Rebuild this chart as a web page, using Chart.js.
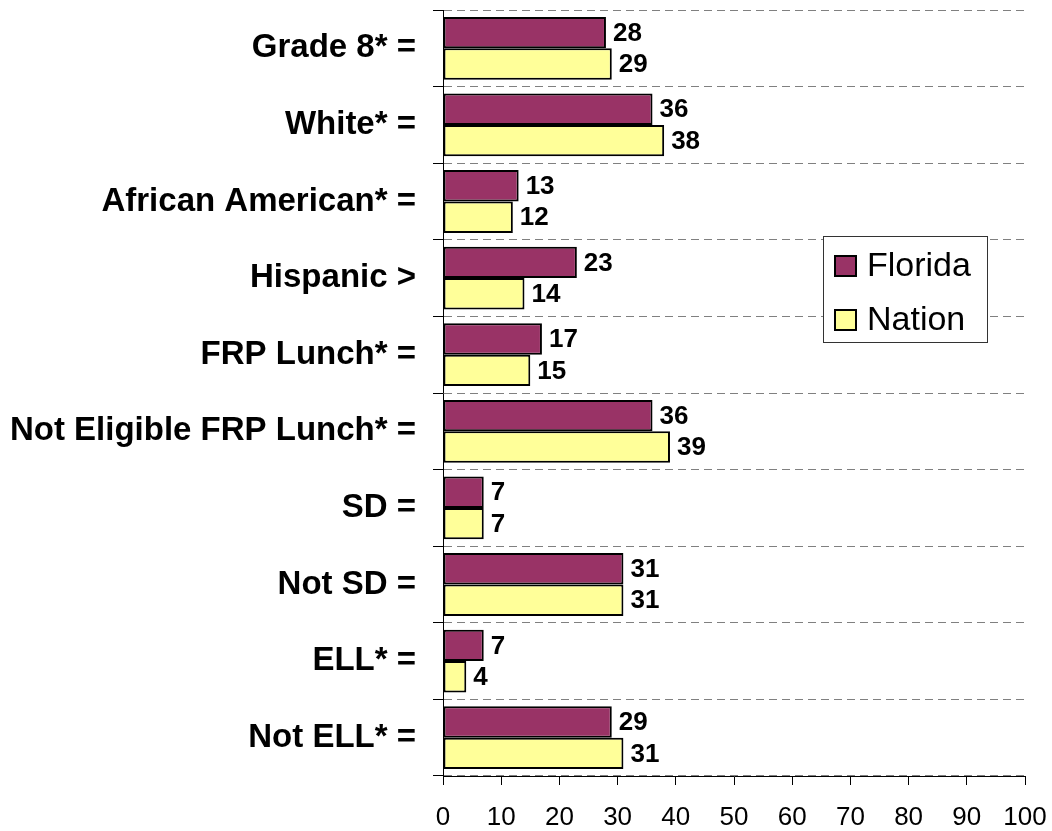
<!DOCTYPE html>
<html>
<head>
<meta charset="utf-8">
<script src="https://cdn.jsdelivr.net/npm/chart.js@4.4.1/dist/chart.umd.min.js"></script>
<style>
  html, body { margin: 0; padding: 0; background: #ffffff; }
  #wrap { width: 1052px; height: 831px; position: relative; }
</style>
</head>
<body>
<div id="wrap"><canvas id="c" width="1052" height="831"></canvas></div>
<script>
const categories = ["Grade 8* =", "White* =", "African American* =", "Hispanic >", "FRP Lunch* =",
  "Not Eligible FRP Lunch* =", "SD =", "Not SD =", "ELL* =", "Not ELL* ="];
const floridaValues = [28, 36, 13, 23, 17, 36, 7, 31, 7, 29];
const nationValues = [29, 38, 12, 14, 15, 39, 7, 31, 4, 31];
const seriesNames = ["Florida", "Nation"];
const xTicks = [0, 10, 20, 30, 40, 50, 60, 70, 80, 90, 100];

const FONT = "'Liberation Sans', Arial, sans-serif";

const valueLabels = {
  id: 'valueLabels',
  afterDatasetsDraw(chart) {
    const ctx = chart.ctx;
    ctx.save();
    ctx.font = "bold 26px " + FONT;
    ctx.fillStyle = "#000";
    ctx.textBaseline = "middle";
    ctx.textAlign = "left";
    chart.data.datasets.forEach((ds, di) => {
      const meta = chart.getDatasetMeta(di);
      meta.data.forEach((bar, i) => {
        ctx.fillText(String(ds.data[i]), bar.x + 7, bar.y + 1);
      });
    });
    ctx.restore();
  }
};

const boxLegend = {
  id: 'boxLegend',
  afterDraw(chart) {
    const ctx = chart.ctx;
    const a = chart.chartArea;
    const x0 = a.left + 380, y0 = a.top + 226, w = 164, h = 106;
    ctx.save();
    ctx.fillStyle = "#fff";
    ctx.fillRect(x0, y0, w, h);
    ctx.strokeStyle = "#333";
    ctx.lineWidth = 1;
    ctx.strokeRect(x0 + 0.5, y0 + 0.5, w, h);
    ctx.font = "34px " + FONT;
    ctx.textBaseline = "middle";
    chart.data.datasets.forEach((ds, i) => {
      const cy = y0 + 30 + i * 54;
      ctx.fillStyle = ds.backgroundColor;
      ctx.fillRect(x0 + 12, cy - 10, 21, 20);
      ctx.strokeStyle = "#000";
      ctx.lineWidth = 2;
      ctx.strokeRect(x0 + 12, cy - 10, 21, 20);
      ctx.fillStyle = "#000";
      ctx.fillText(ds.label, x0 + 44, cy + 1);
    });
    ctx.restore();
  }
};

new Chart(document.getElementById('c'), {
  type: 'bar',
  data: {
    labels: categories,
    datasets: [
      { label: seriesNames[0], data: floridaValues, backgroundColor: "#993366", borderColor: "#000", borderWidth: 2, borderSkipped: false },
      { label: seriesNames[1], data: nationValues, backgroundColor: "#FFFF99", borderColor: "#000", borderWidth: 2, borderSkipped: false }
    ]
  },
  options: {
    indexAxis: 'y',
    responsive: false,
    animation: false,
    events: [],
    layout: { padding: { top: 10, right: 27, left: 0, bottom: 0 } },
    categoryPercentage: 0.82,
    barPercentage: 1.0,
    plugins: { legend: { display: false }, tooltip: { enabled: false } },
    scales: {
      x: {
        min: 0, max: 100,
        afterBuildTicks(scale) { scale.ticks = xTicks.map(v => ({ value: v })); },
        afterFit(scale) { scale.height = 55; scale.paddingLeft = 0; scale.paddingRight = 0; },
        grid: { drawOnChartArea: false, drawTicks: true, tickLength: 9, color: "#000", lineWidth: 1 },
        border: { display: true, color: "#000", width: 1 },
        ticks: { font: { family: FONT, size: 26 }, color: "#000", padding: 17, maxRotation: 0 }
      },
      y: {
        afterFit(scale) { scale.width = 443; scale.paddingTop = 0; scale.paddingBottom = 0; },
        grid: { offset: true, color: "#808080", lineWidth: 1, tickLength: 10, tickColor: "#000", tickBorderDash: [] },
        border: { display: true, color: "#000", width: 1, dash: [8, 5] },
        ticks: { font: { family: FONT, size: 33, weight: 'bold' }, color: "#000", padding: 17 }
      }
    }
  },
  plugins: [valueLabels, boxLegend]
});
</script>
</body>
</html>
